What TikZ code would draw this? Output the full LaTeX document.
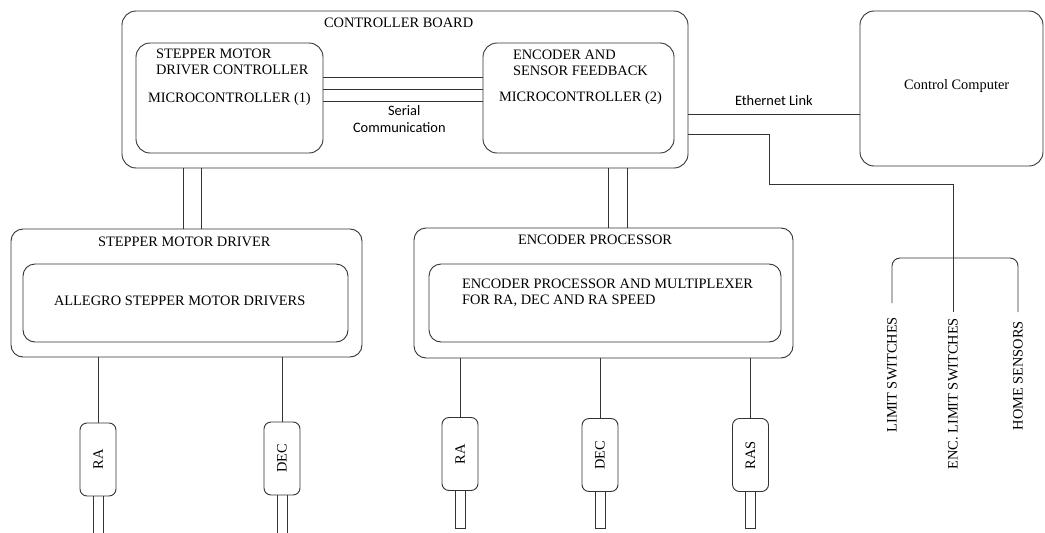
\documentclass[tikz,border=0pt]{standalone}
\usepackage{fontspec}
\setmainfont{Liberation Serif}
\newfontfamily\calib{Carlito}
\usetikzlibrary{calc}
\begin{document}
\begin{tikzpicture}[x=1pt,y=-1pt,
  every node/.style={font=\fontsize{14.4}{16}\selectfont, text=black, inner sep=0pt, outer sep=0pt},
  blk/.style={draw=black!80, line width=0.9pt, rounded corners=14pt},
  motorbox/.style={draw=black!80, line width=0.9pt, rounded corners=7pt, rotate=90, minimum width=73pt, minimum height=36pt},
  wire/.style={draw=black!80, line width=0.9pt},
  lbl/.style={anchor=base west},
  side/.style={rotate=90, anchor=east},
  sans/.style={font=\calib\fontsize{14.4}{16}\selectfont}
]
\useasboundingbox (0,0) rectangle (1045,533);

% main boxes
\node[blk, minimum width=566pt, minimum height=157pt] (cb) at (405,89.5) {};
\node[blk, minimum width=187pt, minimum height=110pt] (m1) at (229.5,98) {};
\node[blk, minimum width=191pt, minimum height=110pt] (m2) at (578.5,98) {};
\node[blk, minimum width=183pt, minimum height=155pt] (cc) at (951.5,88.5) {};
\node[blk, rounded corners=12pt, minimum width=351pt, minimum height=128pt] (smd) at (186.5,293) {};
\node[blk, rounded corners=12pt, minimum width=325pt, minimum height=78pt] (smdin) at (185.5,303) {};
\node[blk, rounded corners=12pt, minimum width=379pt, minimum height=130pt] (ep) at (603.5,293) {};
\node[blk, rounded corners=12pt, minimum width=352pt, minimum height=78pt] (epin) at (605,303) {};

% texts
\node[lbl] (tcb) at (324,27) {CONTROLLER BOARD};
\node[lbl] (tm1a) at (156,58) {STEPPER MOTOR};
\node[lbl] (tm1b) at (156,74) {DRIVER CONTROLLER};
\node[lbl] (tm1c) at (148,102) {MICROCONTROLLER (1)};
\node[lbl] (tm2a) at (513,59) {ENCODER AND};
\node[lbl] (tm2b) at (513,75) {SENSOR FEEDBACK};
\node[lbl] (tm2c) at (499,101) {MICROCONTROLLER (2)};
\node[lbl, sans] (tser) at (388,115) {Serial};
\node[lbl, sans] (tcom) at (353,132) {Communication};
\node[lbl, sans] (teth) at (735,105) {Ethernet Link};
\node[lbl] (tcc) at (904,89) {Control Computer};
\node[lbl] (tsmd) at (98,246) {STEPPER MOTOR DRIVER};
\node[lbl] (tall) at (54,305) {ALLEGRO STEPPER MOTOR DRIVERS};
\node[lbl] (tep) at (518,244) {ENCODER PROCESSOR};
\node[lbl] (tepa) at (462,288) {ENCODER PROCESSOR AND MULTIPLEXER};
\node[lbl] (tepb) at (462,304) {FOR RA, DEC AND RA SPEED};

% sensor labels
\node[side] (lim) at (892,317) {LIMIT SWITCHES};
\node[side] (enc) at (953,318) {ENC. LIMIT SWITCHES};
\node[side] (home) at (1018,321) {HOME SENSORS};

% motors
\node[motorbox] (ra1) at (98,459.5) {RA};
\node[motorbox] (dec1) at (282,458.5) {DEC};
\node[motorbox] (ra2) at (460,454) {RA};
\node[motorbox] (dec2) at (600,455) {DEC};
\node[motorbox] (ras) at (750.5,455) {RAS};

% serial communication lines
\foreach \d in {-21,-9,3}
  \draw[wire] ($(m1.east)+(0,\d)$) -- ($(m2.west)+(0,\d)$);

% buses from controller board
\foreach \s in {-3.5,14.5}
  \draw[wire] ($(smd.north)+(\s,0)$) -- ($(smd.north |- cb.south)+(\s,0)$);
\foreach \s in {4.5,23.5}
  \draw[wire] ($(ep.north)+(\s,0)$) -- ($(ep.north |- cb.south)+(\s,0)$);

% ethernet link
\coordinate (eth) at ($(cb.east)+(0,24.5)$);
\draw[wire] (eth) -- (eth -| cc.west);

% sensor line
\coordinate (sen) at ($(cb.east)+(0,45)$);
\coordinate (bend) at (769,184);
\draw[wire] (sen) -| (bend) -| ($(enc.east)+(0,-6)$);
\coordinate (brk) at (954,258);
\draw[wire, rounded corners=8pt] ($(lim.east)+(0,-14)$) |- (brk) -| ($(home.east)+(0,-9)$);

% motor connections
\foreach \m/\b in {ra1/smd, dec1/smd, ra2/ep, dec2/ep, ras/ep}
  \draw[wire] (\m.east |- \b.south) -- (\m.east);

% motor shafts
\foreach \m in {ra1, dec1} {
  \draw[wire] ($(\m.west)+(-5,0)$) -- ++(0,40);
  \draw[wire] ($(\m.west)+(5,0)$) -- ++(0,40);
}
\foreach \m in {ra2, dec2, ras}
  \draw[wire] ($(\m.west)+(-5,0)$) rectangle ($(\m.west |- 0,528)+(5,0)$);
\end{tikzpicture}
\end{document}
